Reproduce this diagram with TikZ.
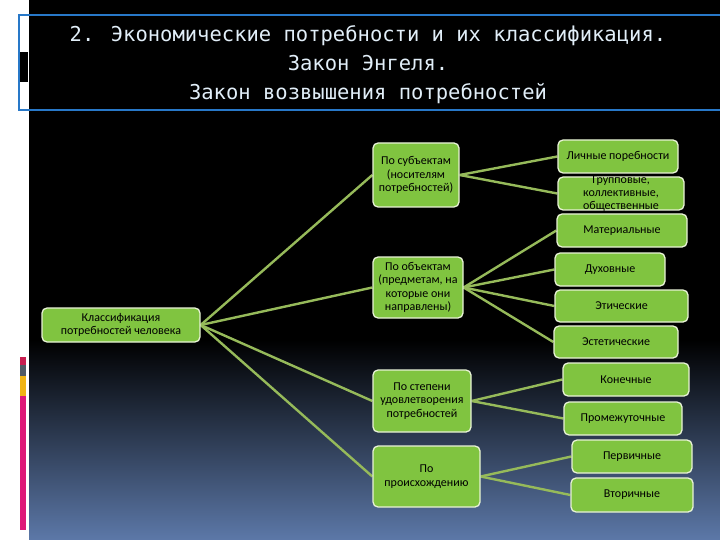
\documentclass[tikz,border=0pt]{standalone}
\usepackage{fontspec}
\setmainfont{Carlito}
\newfontfamily\titlefont{DejaVu Sans Mono}
\usetikzlibrary{backgrounds}
\definecolor{bgblue}{RGB}{92,120,168}
\definecolor{titleblue}{RGB}{40,120,200}
\definecolor{boxgreen}{RGB}{128,196,64}
\definecolor{boxborder}{RGB}{232,242,214}
\definecolor{conncol}{RGB}{150,186,90}
\definecolor{barred}{RGB}{200,30,80}
\definecolor{bargray}{RGB}{80,90,100}
\definecolor{baryellow}{RGB}{240,180,20}
\definecolor{barmag}{RGB}{222,24,120}
\definecolor{titletext}{RGB}{225,238,248}
\tikzset{
  box/.style={draw=boxborder, line width=1.3pt, fill=boxgreen, rounded corners=5pt,
    inner sep=0pt, align=center, text=black, font=\fontsize{12}{13.3}\selectfont},
  boxtext/.style={inner sep=0pt, align=center, text=black, font=\fontsize{12}{13.3}\selectfont},
  conn/.style={draw=conncol, line width=2.4pt},
  titleline/.style={anchor=base, text=titletext, inner sep=0pt, font=\titlefont\fontsize{20.5}{29}\selectfont}
}
\begin{document}
\begin{tikzpicture}[x=1pt,y=-1pt]
\useasboundingbox (0,0) rectangle (720,540);
\begin{scope}[on background layer]
  \fill[white] (0,0) rectangle (720,540);
  \fill[black] (29,0) rectangle (720,340);
  \shade[top color=black, bottom color=bgblue] (29,340) rectangle (720,540);
  % colour bar
  \fill[barred] (20,357) rectangle (26,365);
  \fill[bargray] (20,365) rectangle (26,376);
  \fill[baryellow] (20,376) rectangle (26,396);
  \fill[barmag] (20,396) rectangle (26,530);
  % title frame
  \fill[black] (18,52) rectangle (28,82);
  \draw[titleblue, line width=1.6pt] (19,15) rectangle (723,110);
\end{scope}

\node[titleline] (title1) at (368,41.5) {2. Экономические потребности и их классификация.};
\node[titleline] (title2) at (368,70.5) {Закон Энгеля.};
\node[titleline] (title3) at (368,99.5) {Закон возвышения потребностей};

\node[box, minimum width=158pt, minimum height=34pt] (root) at (121,325) {Классификация\\потребностей человека};

\node[box, minimum width=86pt, minimum height=64pt] (subj) at (416,175) {По субъектам\\(носителям\\потребностей)};
\node[box, minimum width=90pt, minimum height=61pt] (obj) at (418,287.5) {По объектам\\(предметам, на\\которые они\\направлены)};
\node[box, minimum width=98pt, minimum height=62pt] (deg) at (422,401) {По степени\\удовлетворения\\потребностей};
\node[box, minimum width=107pt, minimum height=61pt] (orig) at (426.5,476.5) {По\\происхождению};

\node[box, minimum width=120pt, minimum height=33pt] (lich) at (618,156.5) {Личные поребности};
\node[box, minimum width=126pt, minimum height=33pt] (grp) at (621,193.5) {};
\begin{scope}
  \clip (grp.south west) rectangle (grp.north east);
  \node[boxtext] (grptext) at (grp.center) {Групповые,\\коллективные,\\общественные};
\end{scope}
\node[box, minimum width=130pt, minimum height=33pt] (mat) at (622,230.5) {Материальные};
\node[box, minimum width=110pt, minimum height=33pt] (duh) at (610,269.5) {Духовные};
\node[box, minimum width=133pt, minimum height=32pt] (eti) at (621.5,306) {Этические};
\node[box, minimum width=124pt, minimum height=32pt] (est) at (616,342) {Эстетические};
\node[box, minimum width=126pt, minimum height=33pt] (kon) at (626,379.5) {Конечные};
\node[box, minimum width=118pt, minimum height=33pt] (prom) at (623,418.5) {Промежуточные};
\node[box, minimum width=120pt, minimum height=33pt] (perv) at (632,456.5) {Первичные};
\node[box, minimum width=122pt, minimum height=34pt] (vtor) at (632,495) {Вторичные};

\begin{scope}[on background layer]
  \draw[conn] (root.east) -- (subj.west);
  \draw[conn] (root.east) -- (obj.west);
  \draw[conn] (root.east) -- (deg.west);
  \draw[conn] (root.east) -- (orig.west);
  \draw[conn] (subj.east) -- (lich.west);
  \draw[conn] (subj.east) -- (grp.west);
  \draw[conn] (obj.east) -- (mat.west);
  \draw[conn] (obj.east) -- (duh.west);
  \draw[conn] (obj.east) -- (eti.west);
  \draw[conn] (obj.east) -- (est.west);
  \draw[conn] (deg.east) -- (kon.west);
  \draw[conn] (deg.east) -- (prom.west);
  \draw[conn] (orig.east) -- (perv.west);
  \draw[conn] (orig.east) -- (vtor.west);
\end{scope}
\end{tikzpicture}
\end{document}
